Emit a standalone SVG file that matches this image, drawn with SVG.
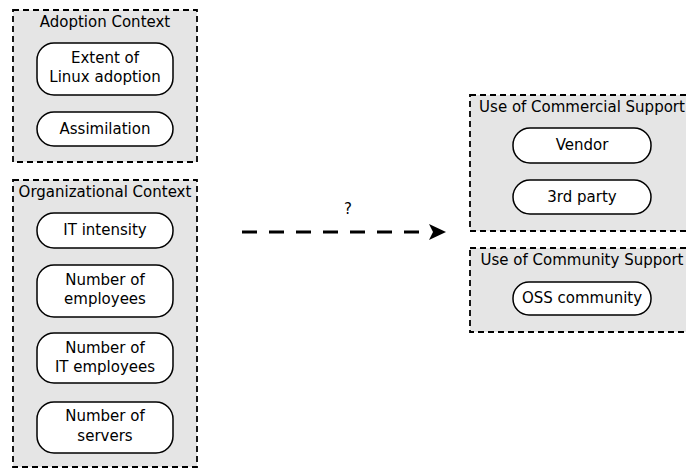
<svg xmlns="http://www.w3.org/2000/svg" width="686" height="471" viewBox="0 0 686 471">
<defs>
<style>
.grp{fill:#e5e5e5;stroke:#000;stroke-width:1.8;stroke-dasharray:6,4}
.nd{fill:#fff;stroke:#000;stroke-width:1.5}
text{font-family:"DejaVu Sans",sans-serif;font-size:15px;fill:#000;text-anchor:middle}
.conn{stroke:#000;stroke-width:3;stroke-dasharray:15,12;fill:none}
</style>
</defs>
<g id="adoption-context">
<rect class="grp" x="13" y="10" width="184" height="152"/>
<text x="105" y="27">Adoption Context</text>
</g>
<g id="extent">
<rect class="nd" x="37" y="43" width="136" height="52" rx="17"/>
<text x="105" y="63">Extent of</text>
<text x="105" y="82">Linux adoption</text>
</g>
<g id="assimilation">
<rect class="nd" x="37" y="112" width="136" height="34" rx="17"/>
<text x="105" y="134">Assimilation</text>
</g>
<g id="org-context">
<rect class="grp" x="13" y="180" width="184" height="287"/>
<text x="105" y="197">Organizational Context</text>
</g>
<g id="it-intensity">
<rect class="nd" x="37" y="213" width="136" height="35" rx="17"/>
<text x="105" y="235">IT intensity</text>
</g>
<g id="employees">
<rect class="nd" x="37" y="265" width="136" height="52" rx="17"/>
<text x="105" y="285">Number of</text>
<text x="105" y="304">employees</text>
</g>
<g id="it-employees">
<rect class="nd" x="37" y="333" width="136" height="50" rx="17"/>
<text x="105" y="353">Number of</text>
<text x="105" y="372">IT employees</text>
</g>
<g id="servers">
<rect class="nd" x="37" y="402" width="136" height="51" rx="17"/>
<text x="105" y="421">Number of</text>
<text x="105" y="441">servers</text>
</g>
<g id="commercial">
<rect class="grp" x="470" y="95" width="230" height="136"/>
<text x="582" y="112">Use of Commercial Support</text>
</g>
<g id="vendor">
<rect class="nd" x="513" y="128" width="138" height="35" rx="17"/>
<text x="582" y="150">Vendor</text>
</g>
<g id="third-party">
<rect class="nd" x="513" y="180" width="138" height="34" rx="17"/>
<text x="582" y="202">3rd party</text>
</g>
<g id="community">
<rect class="grp" x="470" y="248" width="230" height="84"/>
<text x="582" y="265">Use of Community Support</text>
</g>
<g id="oss">
<rect class="nd" x="513" y="282" width="138" height="33" rx="16"/>
<text x="582" y="303">OSS community</text>
</g>
<g id="connectors">
<line class="conn" x1="242" y1="232" x2="430" y2="232"/>
<path d="M429,224 L446,232 L429,240 L433,232 Z" fill="#000"/>
<text x="348" y="214">?</text>
</g>
</svg>
